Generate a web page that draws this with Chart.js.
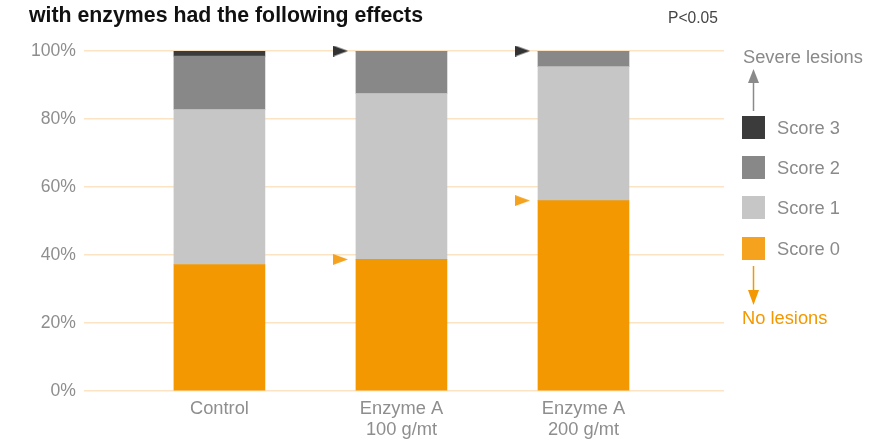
<!DOCTYPE html>
<html>
<head>
<meta charset="utf-8">
<script src="https://cdn.jsdelivr.net/npm/chart.js@4/dist/chart.umd.min.js"></script>
<style>
  body { margin: 0; background: #fff; }
  #wrap { position: relative; width: 871px; height: 441px; overflow: hidden;
          font-family: "Liberation Sans", Arial, Helvetica, sans-serif; }
  #chart { position: absolute; left: 0; top: 0; }
  .title { position: absolute; left: 29px; top: 5px; font-weight: bold; font-size: 21.3px;
           color: #111; white-space: nowrap; line-height: 1; }
  .pval { position: absolute; left: 668px; top: 10px; font-size: 15.6px; color: #444;
          line-height: 1; white-space: nowrap; }
  .leg { position: absolute; font-size: 18.3px; color: #8a8a8a; white-space: nowrap; line-height: 1; }
  .sw { position: absolute; width: 23px; height: 23px; }
  svg { position: absolute; left: 0; top: 0; }
</style>
</head>
<body>
<div id="wrap">
  <canvas id="chart" width="871" height="441"></canvas>
  <div class="title">with enzymes had the following effects</div>
  <div class="pval">P&lt;0.05</div>
  <div id="legend"></div>
</div>
<script>
// Categories (multi-line axis labels)
const categories = [['Control'], ['Enzyme A', '100 g/mt'], ['Enzyme A', '200 g/mt']];

// Share of birds per lesion score (%)
const score0 = [37.2, 38.7, 56.0];
const score1 = [45.6, 48.8, 39.4];
const score2 = [15.7, 12.5, 4.6];
const score3 = [1.5, 0, 0];

const seriesNames = ['Score 0', 'Score 1', 'Score 2', 'Score 3'];
const yTickValues = [0, 20, 40, 60, 80, 100];

// Bars flagged with significance markers
const markedBars = [1, 2];

const seriesValues = [score0, score1, score2, score3];
const seriesColors = ['#f39800', '#c6c6c6', '#888888', '#3b3b3b'];
const legendColors = ['#f5a21f', '#c6c6c6', '#888888', '#3b3b3b'];
const markerShift = -0.335;

// Right-pointing triangle sprite
function triangle(color) {
  const c = document.createElement('canvas');
  c.width = 15; c.height = 11;
  const g = c.getContext('2d');
  g.fillStyle = color;
  g.beginPath();
  g.moveTo(0, 0); g.lineTo(15, 5.5); g.lineTo(0, 11); g.closePath();
  g.fill();
  return c;
}

const barSets = seriesNames.map((name, s) => ({
  type: 'bar',
  label: name,
  data: seriesValues[s].map((v, i) => ({ x: i, y: v })),
  backgroundColor: seriesColors[s],
  borderWidth: 0,
  barThickness: 91,
  stack: 'scores',
  order: 2
}));

const total = i => score0[i] + score1[i] + score2[i] + score3[i];

const markerSets = [
  {
    type: 'scatter', label: 'top', stack: 'm1', clip: false, order: 1,
    data: markedBars.map(i => ({ x: i + markerShift, y: total(i) })),
    pointStyle: triangle('#333333'), pointRadius: 8
  },
  {
    type: 'scatter', label: 'base', stack: 'm2', clip: false, order: 1,
    data: markedBars.map(i => ({ x: i + markerShift, y: score0[i] })),
    pointStyle: triangle('#f5a21f'), pointRadius: 8
  }
];

const tickFont = { family: '"Liberation Sans", Arial, sans-serif', size: 17.6 };
const catFont = { family: '"Liberation Sans", Arial, sans-serif', size: 18.3, lineHeight: 1.15 };

new Chart(document.getElementById('chart'), {
  data: { datasets: [...barSets, ...markerSets] },
  options: {
    responsive: false,
    animation: false,
    events: [],
    layout: { padding: { top: 51, right: 147, bottom: 0, left: 0 } },
    plugins: { legend: { display: false }, tooltip: { enabled: false } },
    scales: {
      x: {
        type: 'linear',
        offset: false,
        bounds: 'data',
        min: -0.744, max: 2.772,
        grid: { display: false, drawTicks: false, offset: false },
        border: { display: false },
        afterFit: s => { s.height = 50; },
        afterBuildTicks: s => { s.ticks = categories.map((c, i) => ({ value: i })); },
        ticks: {
          font: catFont, color: '#8e8e8e', padding: 7,
          maxRotation: 0, autoSkip: false,
          callback: v => categories[v] || ''
        }
      },
      y: {
        stacked: true,
        min: 0, max: 100,
        afterFit: s => { s.width = 84; },
        afterBuildTicks: s => { s.ticks = yTickValues.map(v => ({ value: v })); },
        grid: { color: '#fbe3c4', lineWidth: 1.5, drawTicks: false },
        border: { display: false },
        ticks: { font: tickFont, color: '#8e8e8e', padding: 8, callback: v => v + '%' }
      }
    }
  }
});

// Legend column on the right
const legend = document.getElementById('legend');
let html = '<div class="leg" style="left:743px;top:48px;">Severe lesions</div>';
html += '<svg width="871" height="441">' +
  '<line x1="753.5" y1="111" x2="753.5" y2="80" stroke="#8a8a8a" stroke-width="1.5"/>' +
  '<polygon points="748,83 759,83 753.5,69" fill="#8a8a8a"/>' +
  '<line x1="753.5" y1="266" x2="753.5" y2="292" stroke="#f39800" stroke-width="1.5"/>' +
  '<polygon points="748,290 759,290 753.5,305" fill="#f39800"/>' +
  '</svg>';
const rowTop = { 3: 116, 2: 156, 1: 196, 0: 237 };
[3, 2, 1, 0].forEach(s => {
  const t = rowTop[s];
  html += `<div class="sw" style="left:742px;top:${t}px;background:${legendColors[s]}"></div>`;
  html += `<div class="leg" style="left:777px;top:${t + 3}px;">${seriesNames[s]}</div>`;
});
html += '<div class="leg" style="left:742px;top:309px;color:#f39800;">No lesions</div>';
legend.innerHTML = html;
</script>
</body>
</html>
